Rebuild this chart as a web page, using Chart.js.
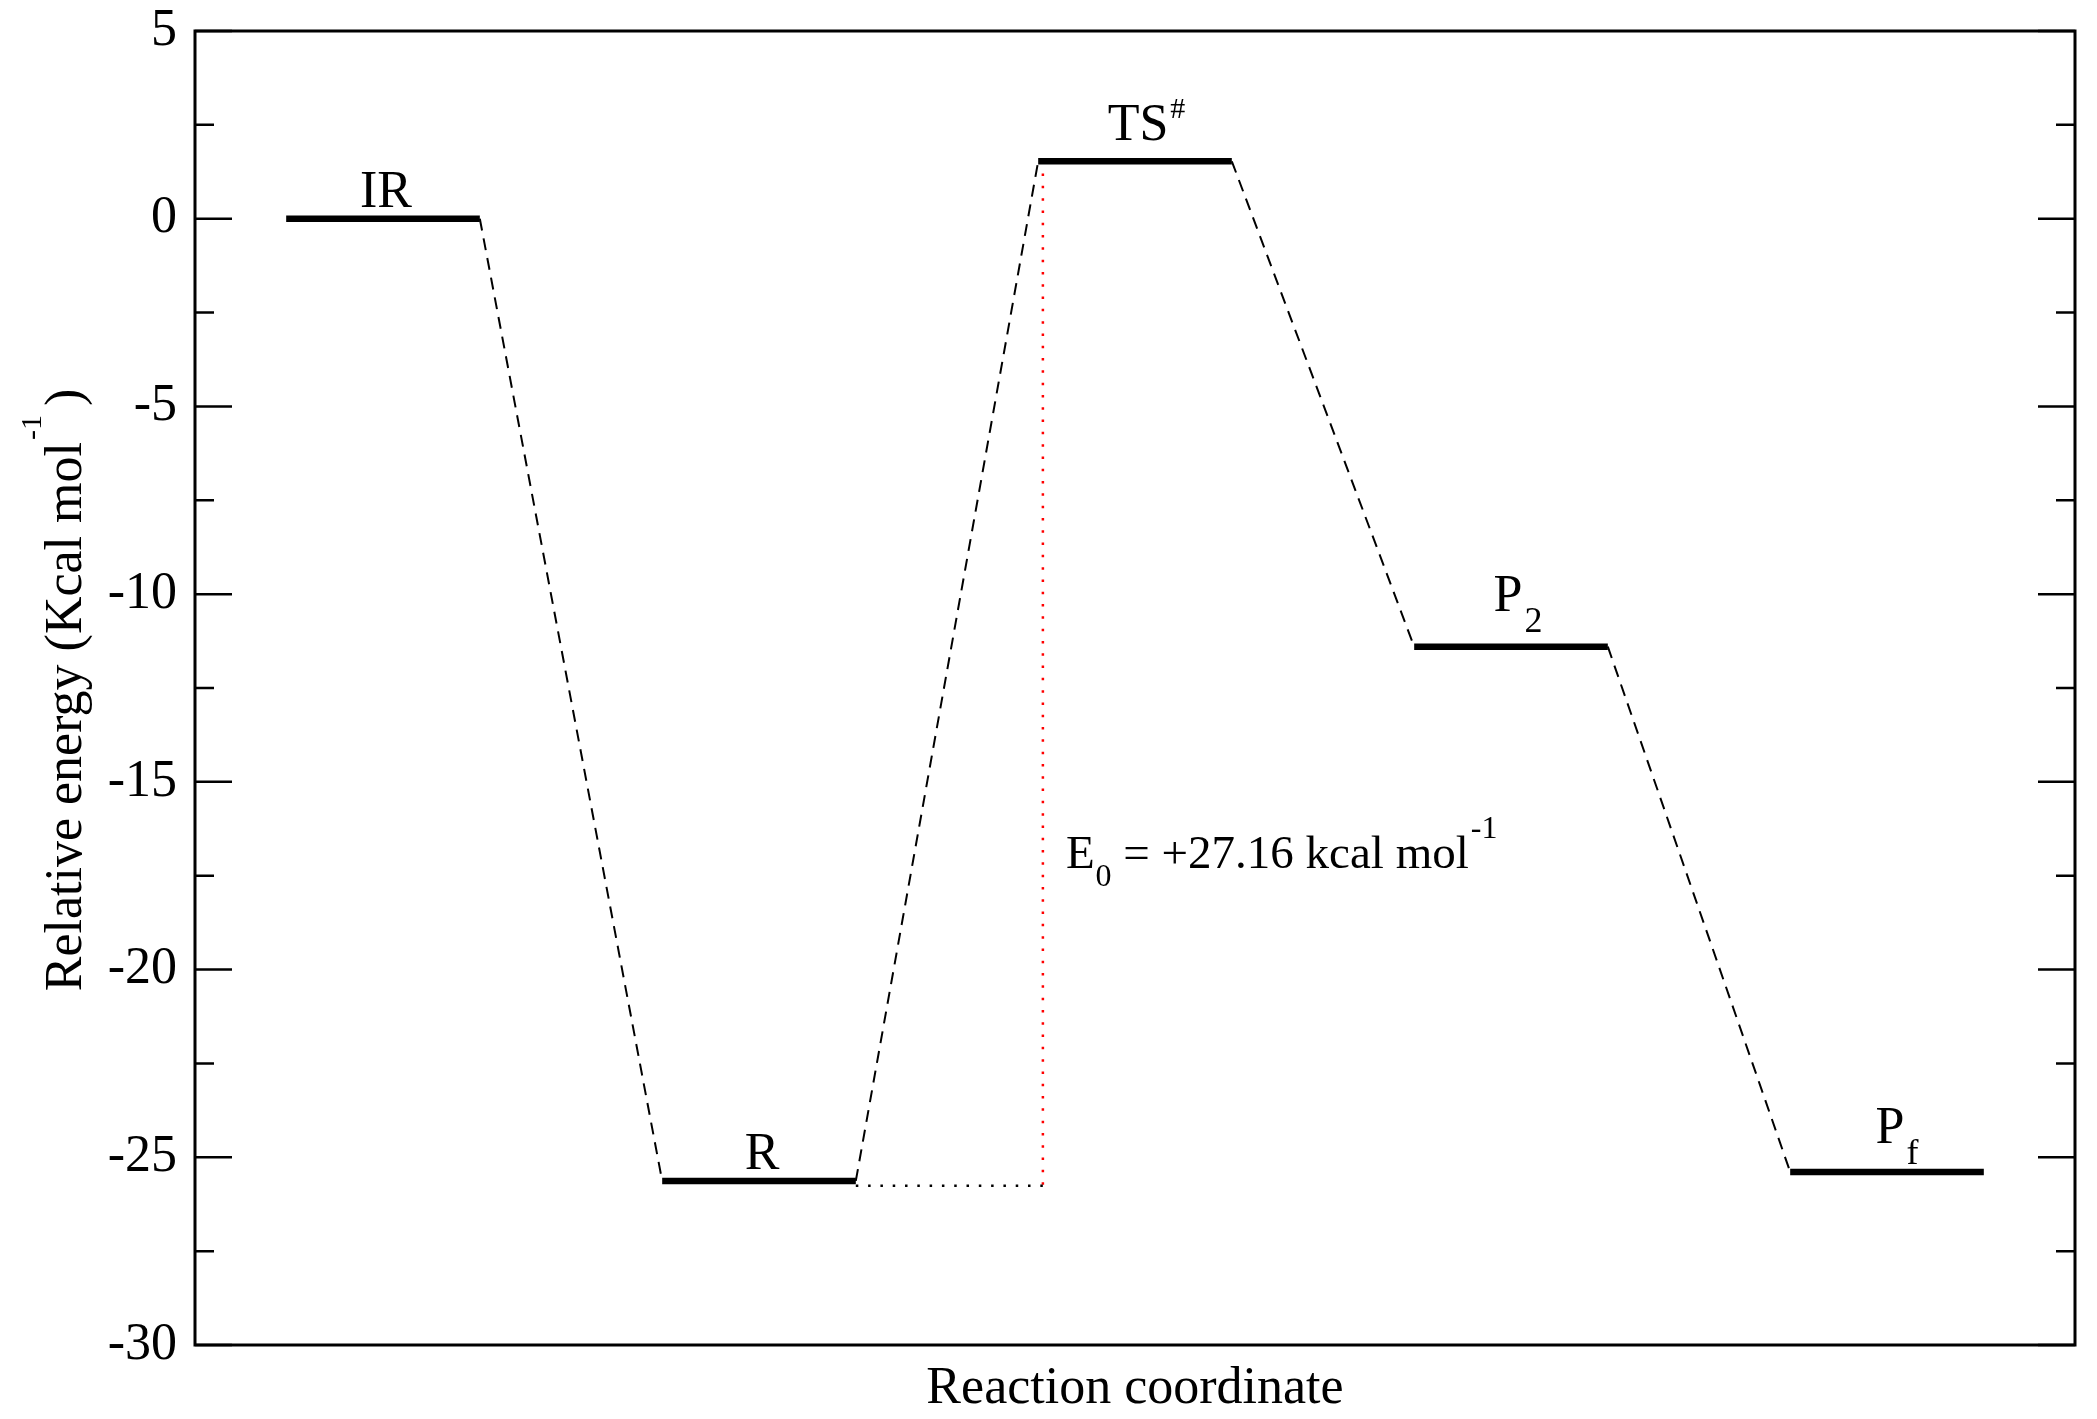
<!DOCTYPE html>
<html>
<head>
<meta charset="utf-8">
<script src="https://cdn.jsdelivr.net/npm/chart.js@4.4.1/dist/chart.umd.min.js"></script>
<style>
html,body{margin:0;padding:0;background:#fff;}
canvas{display:block;}
</style>
</head>
<body>
<canvas id="c" width="2097" height="1419"></canvas>
<script>
// ---- data ----
const stateNames  = ['IR', 'R', 'TS', 'P', 'P'];
const stateSub    = ['', '', '', '2', 'f'];
const stateSup    = ['', '', '#', '', ''];
const stateCoord  = [1, 3, 5, 7, 9];
const stateEnergy = [0.0, -25.63, 1.53, -11.40, -25.39];
const yTicks      = [5, 0, -5, -10, -15, -20, -25, -30];
const barrierCoord = 4.51;
const barrierEndCoord = 4.55;
const barrierBase = -25.76;
const xTitle = 'Reaction coordinate';

// ---- style ----
const FONT = "'Liberation Serif','Times New Roman',Times,serif";
const HALF = 0.515;
const labelLift = [12, 12, 21, 36, 29];
const labelShift = [3, 3, 3, -3, 3];

// ---- build datasets from data ----
const levelData = [];
const connData = [];
stateCoord.forEach((c, i) => {
  levelData.push({x: c - HALF, y: stateEnergy[i]}, {x: c + HALF, y: stateEnergy[i]});
  if (i < stateCoord.length - 1) {
    levelData.push({x: c + 1, y: null});
    connData.push({x: c + HALF, y: stateEnergy[i]},
                  {x: stateCoord[i + 1] - HALF, y: stateEnergy[i + 1]},
                  {x: stateCoord[i + 1], y: null});
  }
});
const baseData = [{x: stateCoord[1] + HALF, y: barrierBase}, {x: barrierEndCoord, y: barrierBase}];
const redData = [{x: barrierCoord, y: stateEnergy[2]}, {x: barrierCoord, y: barrierBase}];

function drawRich(ctx, parts, x, y, align) {
  let total = 0;
  parts.forEach(p => { ctx.font = p.size + 'px ' + FONT; p.w = ctx.measureText(p.t).width; total += p.w + (p.gap || 0); });
  let cx = align === 'center' ? x - total / 2 : x;
  ctx.textAlign = 'left';
  ctx.textBaseline = 'alphabetic';
  parts.forEach(p => {
    cx += (p.gap || 0);
    ctx.font = p.size + 'px ' + FONT;
    ctx.fillText(p.t, cx, y + (p.dy || 0));
    cx += p.w;
  });
}

const decor = {
  id: 'decor',
  afterDatasetsDraw(chart) {
    const ctx = chart.ctx;
    const a = chart.chartArea;
    const ys = chart.scales.y, xs = chart.scales.x;
    ctx.save();
    ctx.strokeStyle = '#000';
    ctx.fillStyle = '#000';
    // frame
    ctx.lineWidth = 3;
    ctx.strokeRect(a.left, a.top, a.right - a.left, a.bottom - a.top);
    // inward ticks (major & minor) on left and right
    ctx.lineWidth = 2.5;
    for (let i = 0; i < yTicks.length; i++) {
      const v = yTicks[i];
      const py = ys.getPixelForValue(v);
      ctx.beginPath();
      ctx.moveTo(a.left, py); ctx.lineTo(a.left + 37, py);
      ctx.moveTo(a.right, py); ctx.lineTo(a.right - 37, py);
      ctx.stroke();
      if (i < yTicks.length - 1) {
        const pm = ys.getPixelForValue((v + yTicks[i + 1]) / 2);
        ctx.beginPath();
        ctx.moveTo(a.left, pm); ctx.lineTo(a.left + 19, pm);
        ctx.moveTo(a.right, pm); ctx.lineTo(a.right - 19, pm);
        ctx.stroke();
      }
    }
    // state labels
    stateNames.forEach((n, i) => {
      const cx = xs.getPixelForValue(stateCoord[i]) + labelShift[i];
      const by = ys.getPixelForValue(stateEnergy[i]) - labelLift[i];
      ctx.font = '52px ' + FONT;
      const w = ctx.measureText(n).width;
      const parts = [{t: n, size: 52}];
      if (stateSub[i]) parts.push({t: stateSub[i], size: 36, dy: 21, gap: 2});
      if (stateSup[i]) parts.push({t: stateSup[i], size: 30, dy: -22, gap: 2});
      drawRich(ctx, parts, cx - w / 2, by, 'left');
    });
    // barrier annotation
    const ex = xs.getPixelForValue(barrierCoord) + 23;
    const ey = ys.getPixelForValue(-17.30);
    drawRich(ctx, [
      {t: 'E', size: 47},
      {t: '0', size: 32, dy: 18, gap: 1},
      {t: ' = +27.16 kcal mol', size: 47},
      {t: '-1', size: 32, dy: -30, gap: 2}
    ], ex, ey, 'left');
    // x title
    drawRich(ctx, [{t: xTitle, size: 52}], (a.left + a.right) / 2, 1403, 'center');
    // y title
    ctx.translate(81, (a.top + a.bottom) / 2 + 2);
    ctx.rotate(-Math.PI / 2);
    drawRich(ctx, [
      {t: 'Relative energy (Kcal mol', size: 52},
      {t: '-1', size: 30, dy: -40, gap: 2},
      {t: ')', size: 52, gap: 9}
    ], 0, 0, 'center');
    ctx.restore();
  }
};

new Chart(document.getElementById('c'), {
  type: 'line',
  data: {
    datasets: [
      {label: 'levels', data: levelData, borderColor: '#000', borderWidth: 6.5, pointRadius: 0, spanGaps: false, borderCapStyle: 'butt', tension: 0},
      {label: 'path', data: connData, borderColor: '#000', borderWidth: 2, borderDash: [12, 8], pointRadius: 0, spanGaps: false, tension: 0},
      {label: 'base', data: baseData, borderColor: '#000', borderWidth: 2.5, borderDash: [2.5, 9.8], pointRadius: 0, tension: 0},
      {label: 'barrier', data: redData, borderColor: '#ff0000', borderWidth: 2.5, borderDash: [2.5, 9.8], pointRadius: 0, tension: 0}
    ]
  },
  options: {
    responsive: false,
    animation: false,
    devicePixelRatio: 1,
    layout: {padding: {top: 31, right: 22, bottom: 74, left: 0}},
    plugins: {legend: {display: false}, tooltip: {enabled: false}},
    scales: {
      x: {type: 'linear', min: 0, max: 10, display: false},
      y: {
        type: 'linear', min: -30, max: 5,
        afterBuildTicks: s => { s.ticks = yTicks.map(v => ({value: v})); },
        afterFit: s => { s.width = 195; s.paddingTop = 0; s.paddingBottom = 0; },
        ticks: {autoSkip: false, color: '#000', padding: 18, font: {family: FONT, size: 52, lineHeight: 1}},
        grid: {display: false, drawTicks: false},
        border: {display: false}
      }
    }
  },
  plugins: [decor]
});
</script>
</body>
</html>
